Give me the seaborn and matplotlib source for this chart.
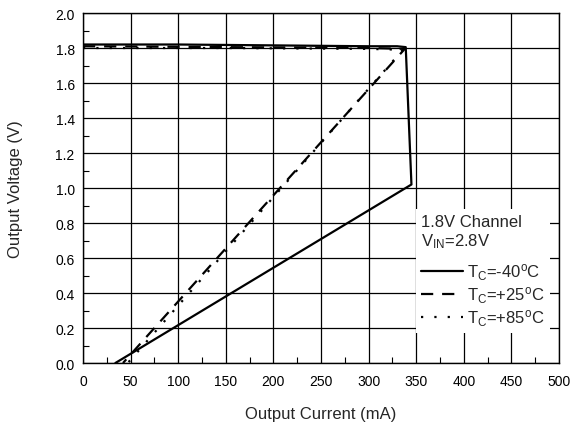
import numpy as np
import pandas as pd
import matplotlib
matplotlib.use("Agg")
import matplotlib.pyplot as plt
from matplotlib.ticker import MultipleLocator
import seaborn as sns

# Output voltage vs. output current (foldback current limit), 1.8V channel
labels = [r"T$_\mathrm{C}$=-40$^\mathrm{o}$C",
          r"T$_\mathrm{C}$=+25$^\mathrm{o}$C",
          r"T$_\mathrm{C}$=+85$^\mathrm{o}$C"]

current_m40 = [0, 100, 200, 300, 330, 339, 345, 34]
voltage_m40 = [1.82, 1.82, 1.815, 1.81, 1.81, 1.805, 1.02, 0.0]

current_p25 = [0, 150, 300, 338, 42]
voltage_p25 = [1.81, 1.805, 1.80, 1.795, 0.0]

current_p85 = [0, 150, 300, 336, 47]
voltage_p85 = [1.80, 1.80, 1.795, 1.79, 0.0]

x_ticks = [0, 50, 100, 150, 200, 250, 300, 350, 400, 450, 500]
y_ticks = [0.0, 0.2, 0.4, 0.6, 0.8, 1.0, 1.2, 1.4, 1.6, 1.8, 2.0]

frames = []
for lab, cur, vol in zip(labels,
                         [current_m40, current_p25, current_p85],
                         [voltage_m40, voltage_p25, voltage_p85]):
    frames.append(pd.DataFrame({"Current": cur, "Voltage": vol,
                                "Temp": lab, "order": range(len(cur))}))
df = pd.concat(frames, ignore_index=True)

sns.set_style("white")
plt.rcParams["font.family"] = ["Liberation Sans", "DejaVu Sans"]
plt.rcParams["mathtext.fontset"] = "custom"
plt.rcParams["mathtext.rm"] = "Liberation Sans"
plt.rcParams["mathtext.it"] = "Liberation Sans:italic"

fig = plt.figure(figsize=(5.82, 4.27), dpi=100)
ax = fig.add_axes([0.1426, 0.1475, 0.8179, 0.8197])

sns.lineplot(data=df, x="Current", y="Voltage", hue="Temp", style="Temp",
             units="Temp", estimator=None, sort=False,
             palette=["black", "black", "black"],
             dashes=[(None, None), (5.5, 4), (1, 5)],
             linewidth=1.6, ax=ax)

ax.set_xlim(0, 500)
ax.set_ylim(0, 2.0)
ax.set_xticks(x_ticks)
ax.set_yticks(y_ticks)
ax.set_xticklabels([str(t) for t in x_ticks])
ax.set_yticklabels([f"{t:.1f}" for t in y_ticks])
ax.xaxis.set_minor_locator(MultipleLocator(25))
ax.yaxis.set_minor_locator(MultipleLocator(0.1))
ax.grid(True, which="major", color="black", linewidth=0.9)
ax.tick_params(which="major", direction="in", length=0, labelsize=10,
               colors="black", pad=8)
ax.tick_params(axis="y", which="major", pad=6)
ax.tick_params(which="minor", direction="in", length=4, width=0.8,
               color="black", bottom=True, left=True)
for sp in ax.spines.values():
    sp.set_color("black")
    sp.set_linewidth(1.0)

ax.set_xlabel("Output Current (mA)", fontsize=12, labelpad=13)
ax.set_ylabel("Output Voltage (V)", fontsize=12, labelpad=23)

handles, labs = ax.get_legend_handles_labels()
leg = ax.legend(handles, labs, title="1.8V Channel\nV$_\\mathrm{IN}$=2.8V",
                loc="lower left", bbox_to_anchor=(0.70, 0.085),
                fontsize=12, title_fontsize=12, frameon=True,
                fancybox=False, framealpha=1, edgecolor="none",
                facecolor="white", handlelength=2.5, handletextpad=0.25,
                labelspacing=0.15, borderpad=0.3, borderaxespad=0,
                alignment="left")
leg._legend_box.sep = 8
for h in leg.legend_handles:
    h.set_linewidth(1.6)

fig.savefig("out.png", dpi=100)
